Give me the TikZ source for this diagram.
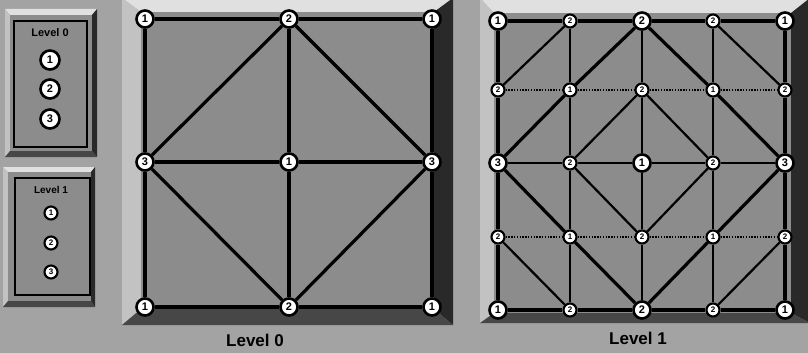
\documentclass[tikz,border=0pt]{standalone}
\usepackage{fontspec}
\setmainfont{Liberation Sans}

\definecolor{bg}{gray}{0.64}
\definecolor{face}{gray}{0.55}
\definecolor{hilite}{gray}{0.88}
\definecolor{hiliteside}{gray}{0.76}
\definecolor{darkside}{gray}{0.16}
\definecolor{darkbottom}{gray}{0.28}

% raised panel: outer corners #1,#2 / #3,#4, inner corners #5,#6 / #7,#8
\newcommand{\panelbevel}[8]{%
  \fill[hilite] (#1,#2) -- (#3,#2) -- (#7,#6) -- (#5,#6) -- cycle;
  \fill[hiliteside] (#1,#2) -- (#5,#6) -- (#5,#8) -- (#1,#4) -- cycle;
  \fill[darkside] (#3,#2) -- (#7,#6) -- (#7,#8) -- (#3,#4) -- cycle;
  \fill[darkbottom] (#1,#4) -- (#5,#8) -- (#7,#8) -- (#3,#4) -- cycle;
  \fill[face] (#5,#6) rectangle (#7,#8);}

\begin{document}
\begin{tikzpicture} [x=1pt, y=-1pt,
    bignode/.style={circle, draw, fill=white, line width=2.6pt, minimum size=17pt,
      inner sep=0pt, font=\bfseries\fontsize{11}{11}\selectfont},
    subnode/.style={circle, draw, fill=white, line width=2.1pt, minimum size=13pt,
      inner sep=0pt, font=\bfseries\fontsize{8}{8}\selectfont},
    title/.style={font=\bfseries\fontsize{17}{17}\selectfont, text=black},
    main/.style={line width=3.2pt},
    minor/.style={line width=2.2pt},
    dots/.style={line width=2.2pt, dash pattern=on 1.4pt off 1.4pt}]
  \useasboundingbox (0,0) rectangle (808,353);
  \fill[bg] (0,0) rectangle (808,353);

  % legends
  \panelbevel{5}{9}{97}{157}{10}{15}{92}{151}
  \draw[line width=1.8pt] (14,21) rectangle (87,147);
  \node[font=\bfseries\fontsize{11}{11}\selectfont] (leg0) at (50,33) {Level 0};
  \node[bignode, minimum size=19pt] (leg0a) at (50,60)  {1};
  \node[bignode, minimum size=19pt] (leg0b) at (50,89)  {2};
  \node[bignode, minimum size=19pt] (leg0c) at (50,119) {3};

  \panelbevel{3}{167}{95}{307}{8}{172}{91}{301}
  \draw[line width=1.8pt] (15,178) rectangle (90,295);
  \node[font=\bfseries\fontsize{10}{10}\selectfont] (leg1) at (51,190) {Level 1};
  \node[subnode] (leg1a) at (51,213) {1};
  \node[subnode] (leg1b) at (51,243) {2};
  \node[subnode] (leg1c) at (51,272) {3};

  % level 0
  \panelbevel{122}{-2}{453}{325}{141}{12}{434}{309}
  \node[bignode] (TL) at (145,19)  {1};
  \node[bignode] (TM) at (289,19)  {2};
  \node[bignode] (TR) at (432,19)  {1};
  \node[bignode] (ML) at (145,162) {3};
  \node[bignode] (C)  at (289,162) {1};
  \node[bignode] (MR) at (432,162) {3};
  \node[bignode] (BL) at (145,307) {1};
  \node[bignode] (BM) at (289,307) {2};
  \node[bignode] (BR) at (432,307) {1};

  \draw[main] (TL) -- (TM);
  \draw[main] (TM) -- (TR);
  \draw[main] (TR) -- (MR);
  \draw[main] (MR) -- (BR);
  \draw[main] (BR) -- (BM);
  \draw[main] (BM) -- (BL);
  \draw[main] (BL) -- (ML);
  \draw[main] (ML) -- (TL);
  \draw[main] (TM) -- (C);
  \draw[main] (C) -- (BM);
  \draw[main] (ML) -- (C);
  \draw[main] (C) -- (MR);
  \draw[main] (TM) -- (MR);
  \draw[main] (MR) -- (BM);
  \draw[main] (BM) -- (ML);
  \draw[main] (ML) -- (TM);
  \node[title] (lab0) at (255,340) {Level 0};

  % level 1
  \panelbevel{480}{-2}{810}{323}{494}{13}{791}{313}
  \node[bignode] (q11) at (498,21)  {1};
  \node[subnode] (q12) at (570,21)  {2};
  \node[bignode] (q13) at (642,21)  {2};
  \node[subnode] (q14) at (713,21)  {2};
  \node[bignode] (q15) at (785,21)  {1};
  \node[subnode] (q21) at (498,90)  {2};
  \node[subnode] (q22) at (570,90)  {1};
  \node[subnode] (q23) at (642,90)  {2};
  \node[subnode] (q24) at (713,90)  {1};
  \node[subnode] (q25) at (785,90)  {2};
  \node[bignode] (q31) at (498,163) {3};
  \node[subnode] (q32) at (570,163) {2};
  \node[bignode] (q33) at (642,163) {1};
  \node[subnode] (q34) at (713,163) {2};
  \node[bignode] (q35) at (785,163) {3};
  \node[subnode] (q41) at (498,237) {2};
  \node[subnode] (q42) at (570,237) {1};
  \node[subnode] (q43) at (642,237) {2};
  \node[subnode] (q44) at (713,237) {1};
  \node[subnode] (q45) at (785,237) {2};
  \node[bignode] (q51) at (498,310) {1};
  \node[subnode] (q52) at (570,310) {2};
  \node[bignode] (q53) at (642,310) {2};
  \node[subnode] (q54) at (713,310) {2};
  \node[bignode] (q55) at (785,310) {1};

  % border
  \draw[main] (q11) -- (q12) -- (q13) -- (q14) -- (q15);
  \draw[main] (q51) -- (q52) -- (q53) -- (q54) -- (q55);
  \draw[main] (q11) -- (q21) -- (q31) -- (q41) -- (q51);
  \draw[main] (q15) -- (q25) -- (q35) -- (q45) -- (q55);
  % inner verticals and horizontals
  \draw[minor] (q12) -- (q22) -- (q32) -- (q42) -- (q52);
  \draw[minor] (q13) -- (q23) -- (q33) -- (q43) -- (q53);
  \draw[minor] (q14) -- (q24) -- (q34) -- (q44) -- (q54);
  \draw[minor] (q31) -- (q32) -- (q33) -- (q34) -- (q35);
  \draw[dots] (q21) -- (q22) -- (q23) -- (q24) -- (q25);
  \draw[dots] (q41) -- (q42) -- (q43) -- (q44) -- (q45);
  % diamonds
  \draw[main] (q13) -- (q24) -- (q35) -- (q44) -- (q53) -- (q42) -- (q31) -- (q22) -- (q13);
  \draw[minor] (q23) -- (q34) -- (q43) -- (q32) -- (q23);
  \draw[minor] (q12) -- (q21);
  \draw[minor] (q14) -- (q25);
  \draw[minor] (q41) -- (q52);
  \draw[minor] (q45) -- (q54);
  \node[title] (lab1) at (638,338) {Level 1};
\end{tikzpicture}
\end{document}
